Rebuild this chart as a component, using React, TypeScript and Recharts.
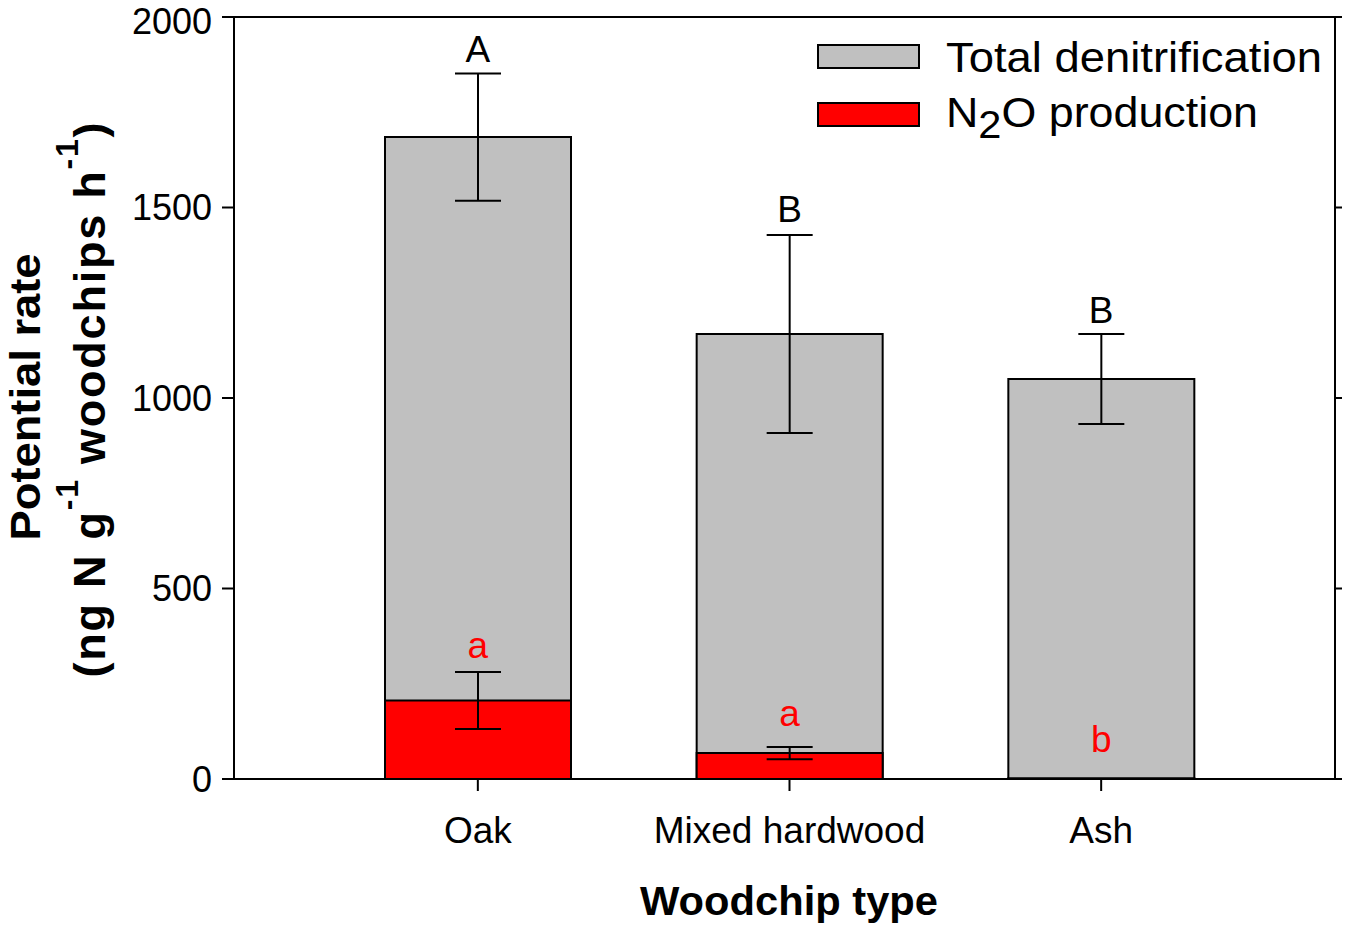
import React from 'react';
import {
  ComposedChart, Bar, ErrorBar, XAxis, YAxis, Scatter, ReferenceLine, Legend,
} from 'recharts';

const categories = ['Oak', 'Mixed hardwood', 'Ash'];
const totalDenit = [1685, 1168, 1050];
const totalSE = [167, 260, 118];
const n2oProd = [206, 68, 2];
const n2oSE = [75, 16, 0];
const totalLetters = ['A', 'B', 'B'];
const totalLetterY = [1882, 1462, 1197];
const n2oLetters = ['a', 'a', 'b'];
const n2oLetterY = [318, 139, 71];
const yTicks = [0, 500, 1000, 1500, 2000];

const data = categories.map((name, i) => ({
  name,
  total: totalDenit[i],
  totalErr: totalSE[i],
  n2o: n2oProd[i],
  n2oErr: n2oSE[i],
  tLetter: totalLetters[i],
  tLetterY: totalLetterY[i],
  nLetter: n2oLetters[i],
  nLetterY: n2oLetterY[i],
}));

const FONT = '"Liberation Sans", Arial, sans-serif';

const LetterShape = (color: string, key: string) => (props: any) => {
  const { cx, cy, payload } = props;
  return (
    <text x={cx} y={cy} textAnchor="middle" fontSize={37} fill={color} fontFamily={FONT}>
      {payload[key]}
    </text>
  );
};

const YLabel = () => (
  <g fontFamily={FONT} fontWeight="bold" fill="#000">
    <text transform="translate(40, 397) rotate(-90)" textAnchor="middle" fontSize={43} textLength={287} lengthAdjust="spacingAndGlyphs">
      Potential rate
    </text>
    <text transform="translate(105, 400) rotate(-90)" textAnchor="middle" fontSize={45} textLength={555} lengthAdjust="spacing">
      <tspan>(ng N g</tspan>
      <tspan dy={-27} fontSize={32}>-1</tspan>
      <tspan dy={27}> woodchips h</tspan>
      <tspan dy={-27} fontSize={32}>-1</tspan>
      <tspan dy={27}>)</tspan>
    </text>
  </g>
);

const XLabel = () => (
  <text x={789} y={915} textAnchor="middle" fontFamily={FONT} fontWeight="bold" fontSize={41} fill="#000" textLength={298} lengthAdjust="spacingAndGlyphs">
    Woodchip type
  </text>
);

const LegendContent = () => (
  <svg width={530} height={110} style={{ display: 'block', overflow: 'visible' }}>
    <rect x={10} y={9} width={101} height={23} fill="#c0c0c0" stroke="#000" strokeWidth={2} />
    <rect x={10} y={67} width={101} height={23} fill="#ff0000" stroke="#000" strokeWidth={2} />
    <text x={138} y={36} fontSize={42} fontFamily={FONT} fill="#000" textLength={376} lengthAdjust="spacingAndGlyphs">
      Total denitrification
    </text>
    <text x={138} y={91} fontSize={42} fontFamily={FONT} fill="#000" textLength={312} lengthAdjust="spacingAndGlyphs">
      <tspan>N</tspan>
      <tspan dy={11} fontSize={39}>2</tspan>
      <tspan dy={-11}>O production</tspan>
    </text>
  </svg>
);

export default function App() {
  return (
    <div style={{ width: 1350, height: 931, position: 'relative', margin: -8 }}>
      <ComposedChart
        width={1350}
        height={931}
        data={data}
        margin={{ top: 17, right: 0, bottom: 0, left: 0 }}
        barGap={-186}
        style={{ fontFamily: FONT }}
      >
        <XAxis
          dataKey="name"
          type="category"
          padding={{ left: 88, right: 78 }}
          height={152}
          tickSize={12}
          tickMargin={26}
          tick={{ fontSize: 37, fill: '#000', fontFamily: FONT }}
          axisLine={{ stroke: '#000', strokeWidth: 2 }}
          tickLine={{ stroke: '#000', strokeWidth: 2 }}
          label={<XLabel />}
        />
        <YAxis
          yAxisId="left"
          domain={[0, 2000]}
          ticks={yTicks}
          width={234}
          tickSize={12}
          tickMargin={10}
          tick={{ fontSize: 36, fill: '#000', fontFamily: FONT }}
          axisLine={{ stroke: '#000', strokeWidth: 2 }}
          tickLine={{ stroke: '#000', strokeWidth: 2 }}
          label={<YLabel />}
        />
        <YAxis
          yAxisId="right"
          orientation="right"
          domain={[0, 2000]}
          allowDataOverflow
          ticks={yTicks}
          width={15}
          tickSize={12}
          tickMargin={2}
          tick={{ fontSize: 1, fill: 'none' }}
          axisLine={{ stroke: '#000', strokeWidth: 2 }}
          tickLine={{ stroke: '#000', strokeWidth: 2 }}
        />
        <ReferenceLine yAxisId="right" y={2000} stroke="#000" strokeWidth={2} ifOverflow="extendDomain" />
        <Bar
          yAxisId="left"
          dataKey="total"
          barSize={186}
          fill="#c0c0c0"
          stroke="#000"
          strokeWidth={2}
          isAnimationActive={false}
        >
          <ErrorBar dataKey="totalErr" width={23} stroke="#000" strokeWidth={2} direction="y" />
        </Bar>
        <Bar
          yAxisId="left"
          dataKey="n2o"
          barSize={186}
          fill="#ff0000"
          stroke="#000"
          strokeWidth={2}
          isAnimationActive={false}
        >
          <ErrorBar dataKey="n2oErr" width={23} stroke="#000" strokeWidth={2} direction="y" />
        </Bar>
        <Scatter
          yAxisId="left"
          dataKey="tLetterY"
          shape={LetterShape('#000', 'tLetter')}
          isAnimationActive={false}
          legendType="none"
        />
        <Scatter
          yAxisId="left"
          dataKey="nLetterY"
          shape={LetterShape('#ff0000', 'nLetter')}
          isAnimationActive={false}
          legendType="none"
        />
        <Legend
          verticalAlign="middle"
          align="center"
          content={<LegendContent />}
          wrapperStyle={{ position: 'absolute', left: 808, top: 36, width: 530, height: 110 }}
        />
      </ComposedChart>
    </div>
  );
}
